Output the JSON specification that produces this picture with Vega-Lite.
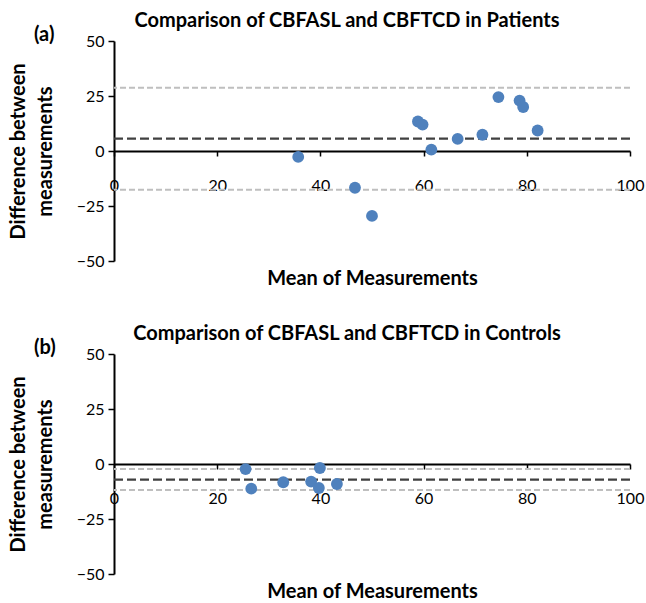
{
  "$schema": "https://vega.github.io/schema/vega-lite/v6.json",
  "padding": {"top": 11, "left": 8, "right": 5, "bottom": 5},
  "background": "white",
  "config": {
    "font": "Lato",
    "view": {"stroke": null},
    "axis": {
      "grid": false,
      "domainColor": "#000000",
      "domainWidth": 2,
      "tickColor": "#000000",
      "tickWidth": 1.5,
      "labelColor": "#000000",
      "labelFont": "Lato",
      "labelFontSize": 16,
      "titleColor": "#000000",
      "titleFont": "Lato",
      "titleFontSize": 20,
      "titleFontWeight": "bold"
    },
    "title": {"font": "Lato", "fontSize": 20, "fontWeight": "bold", "color": "#000000"},
    "concat": {"spacing": 36}
  },
  "datasets": {
    "patients": [
      {"mean": 35.7, "diff": -2.7},
      {"mean": 46.7, "diff": -16.7},
      {"mean": 50.0, "diff": -29.5},
      {"mean": 58.9, "diff": 13.4},
      {"mean": 59.8, "diff": 12.0},
      {"mean": 61.5, "diff": 0.6},
      {"mean": 66.6, "diff": 5.5},
      {"mean": 71.4, "diff": 7.4},
      {"mean": 74.5, "diff": 24.5},
      {"mean": 78.6, "diff": 22.9},
      {"mean": 79.3, "diff": 20.0},
      {"mean": 82.1, "diff": 9.3}
    ],
    "controls": [
      {"mean": 25.5, "diff": -2.3},
      {"mean": 26.6, "diff": -11.2},
      {"mean": 32.8, "diff": -8.3},
      {"mean": 38.2, "diff": -8.0},
      {"mean": 39.7, "diff": -10.9},
      {"mean": 39.9, "diff": -1.8},
      {"mean": 43.2, "diff": -9.1}
    ],
    "patientsLimits": [{"value": 28.8}, {"value": -17.6}],
    "patientsMean": [{"value": 5.6}],
    "controlsLimits": [{"value": -2.3}, {"value": -11.8}],
    "controlsMean": [{"value": -7.1}]
  },
  "vconcat": [
    {
      "title": {"text": "(a)", "anchor": "start", "frame": "group", "dx": -80, "offset": -34, "fontSize": 20},
      "vconcat": [
        {
          "width": 516,
          "height": 220,
          "title": {"text": "Comparison of CBFASL and CBFTCD in Patients", "anchor": "middle", "dx": -25, "offset": 2},
          "layer": [
            {
              "data": {"name": "patientsLimits"},
              "mark": {"type": "rule", "color": "#BFBFBF", "strokeWidth": 2, "strokeDash": [6, 3]},
              "encoding": {"y": {"field": "value", "type": "quantitative"}}
            },
            {
              "data": {"name": "patientsMean"},
              "mark": {"type": "rule", "color": "#404040", "strokeWidth": 2.2, "strokeDash": [9, 4]},
              "encoding": {"y": {"field": "value", "type": "quantitative"}}
            },
            {
              "data": {"name": "patients"},
              "mark": {"type": "point", "filled": true, "opacity": 1, "color": "#4F81BD", "size": 140},
              "encoding": {
                "x": {"field": "mean", "type": "quantitative", "scale": {"domain": [0, 100]},
                  "axis": {"values": [0, 20, 40, 60, 80, 100], "offset": -110, "tickSize": 5, "labelPadding": 21, "labelFlush": false, "title": "Mean of Measurements", "titlePadding": 75}},
                "y": {"field": "diff", "type": "quantitative", "scale": {"domain": [-50, 50]},
                  "axis": {"values": [-50, -25, 0, 25, 50], "tickSize": 6, "labelPadding": 4, "title": ["Difference between", "measurements"], "titleLineHeight": 27, "titlePadding": 20.5}}
              }
            }
          ]
        }
      ]
    },
    {
      "title": {"text": "(b)", "anchor": "start", "frame": "group", "dx": -80, "offset": -34, "fontSize": 20},
      "vconcat": [
        {
          "width": 516,
          "height": 220,
          "title": {"text": "Comparison of CBFASL and CBFTCD in Controls", "anchor": "middle", "dx": -25, "offset": 2},
          "layer": [
            {
              "data": {"name": "controlsLimits"},
              "mark": {"type": "rule", "color": "#BFBFBF", "strokeWidth": 2, "strokeDash": [6, 3]},
              "encoding": {"y": {"field": "value", "type": "quantitative"}}
            },
            {
              "data": {"name": "controlsMean"},
              "mark": {"type": "rule", "color": "#404040", "strokeWidth": 2.2, "strokeDash": [9, 4]},
              "encoding": {"y": {"field": "value", "type": "quantitative"}}
            },
            {
              "data": {"name": "controls"},
              "mark": {"type": "point", "filled": true, "opacity": 1, "color": "#4F81BD", "size": 140},
              "encoding": {
                "x": {"field": "mean", "type": "quantitative", "scale": {"domain": [0, 100]},
                  "axis": {"values": [0, 20, 40, 60, 80, 100], "offset": -110, "tickSize": 5, "labelPadding": 21, "labelFlush": false, "title": "Mean of Measurements", "titlePadding": 75}},
                "y": {"field": "diff", "type": "quantitative", "scale": {"domain": [-50, 50]},
                  "axis": {"values": [-50, -25, 0, 25, 50], "tickSize": 6, "labelPadding": 4, "title": ["Difference between", "measurements"], "titleLineHeight": 27, "titlePadding": 20.5}}
              }
            }
          ]
        }
      ]
    }
  ]
}
